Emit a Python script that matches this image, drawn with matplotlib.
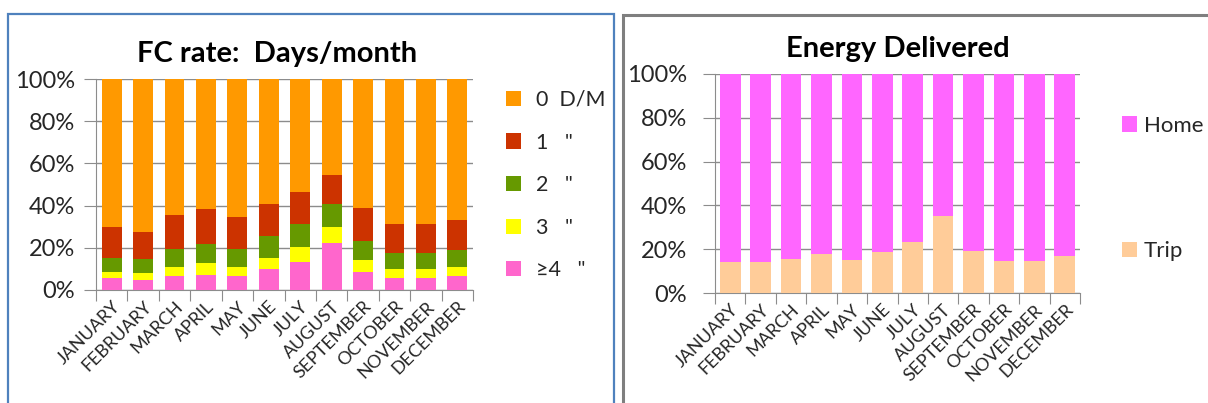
import matplotlib
matplotlib.use('Agg')
import matplotlib.pyplot as plt
import matplotlib.patches as patches
from matplotlib.ticker import FuncFormatter
import numpy as np

plt.rcParams['font.family'] = ['Lato', 'DejaVu Sans']

months = ['JANUARY', 'FEBRUARY', 'MARCH', 'APRIL', 'MAY', 'JUNE', 'JULY',
          'AUGUST', 'SEPTEMBER', 'OCTOBER', 'NOVEMBER', 'DECEMBER']

# FC rate, share of each days/month bucket (percent)
d4 = [5.5, 4.9, 6.6, 7.3, 6.6, 10.0, 13.4, 22.1, 8.5, 5.5, 5.5, 6.6]
d3 = [3.0, 3.0, 4.3, 5.5, 4.3, 5.2, 6.8, 7.8, 5.6, 4.3, 4.3, 4.3]
d2 = [6.7, 6.6, 8.5, 9.2, 8.5, 10.4, 11.1, 10.9, 9.1, 7.8, 7.8, 8.0]
d1 = [14.7, 12.8, 16.0, 16.4, 15.2, 15.2, 15.0, 13.5, 15.8, 13.9, 13.9, 14.5]
d0 = [100 - a - b - c - d for a, b, c, d in zip(d4, d3, d2, d1)]

# energy delivered split (percent)
trip = [14.0, 14.0, 15.7, 17.7, 15.2, 18.6, 23.3, 35.0, 19.3, 14.6, 14.6, 16.7]
home = [100 - t for t in trip]

fc_series = [('\u22654   "', d4, '#FF66CC'),
             ('3   "', d3, '#FFFF00'),
             ('2   "', d2, '#669900'),
             ('1   "', d1, '#CC3300'),
             ('0  D/M', d0, '#FF9900')]
en_series = [('Trip', trip, '#FFCC99'),
             ('Home', home, '#FF66FF')]

TXT = '#262626'
W, H = 1208, 403
fig = plt.figure(figsize=(W / 100, H / 100), dpi=100)

# panel frames
fig.patches.append(patches.Rectangle((8 / W, -0.1), 606 / W, 1 - 14 / H + 0.1,
                                     transform=fig.transFigure, fill=False,
                                     edgecolor='#4F81BD', lw=1.6))
fig.patches.append(patches.Rectangle((623 / W, -0.1), 0.6, 1 - 15 / H + 0.1,
                                     transform=fig.transFigure, fill=False,
                                     edgecolor='#7F7F7F', lw=2.2))

ax1 = fig.add_axes([96 / W, (H - 290) / H, 377 / W, 211 / H])
ax2 = fig.add_axes([715 / W, (H - 293) / H, 365 / W, 219 / H])

pct = FuncFormatter(lambda v, p: '%d%%' % round(v))
x = np.arange(len(months))


def style(ax, ypad):
    ax.set_xlim(-0.5, len(months) - 0.5)
    ax.set_ylim(0, 100)
    ax.set_yticks(np.arange(0, 101, 20))
    ax.yaxis.set_major_formatter(pct)
    ax.set_xticks(np.arange(-0.5, len(months), 1.0))
    ax.set_xticks(x, minor=True)
    ax.set_xticklabels([])
    ax.set_xticklabels(months, minor=True, rotation=45, ha='right',
                       rotation_mode='anchor', fontsize=13, color=TXT)
    ax.tick_params(axis='x', which='minor', length=0, pad=6)
    ax.tick_params(axis='x', which='major', length=8, color='#8C8C8C')
    ax.tick_params(axis='y', length=9, color='#8C8C8C', labelsize=17,
                   labelcolor=TXT, pad=ypad)
    ax.grid(axis='y', color='#8C8C8C', lw=1)
    ax.set_axisbelow(True)
    for s in ('top', 'right'):
        ax.spines[s].set_visible(False)
    for s in ('left', 'bottom'):
        ax.spines[s].set_color('#8C8C8C')


bottom = np.zeros(len(months))
for label, vals, col in fc_series:
    ax1.bar(x, vals, 0.63, bottom=bottom, color=col, label=label, zorder=3)
    bottom += np.array(vals)
style(ax1, 6)
ax1.set_title('FC rate:  Days/month', fontsize=21, fontweight='bold',
              x=0.48, pad=12)
h, l = ax1.get_legend_handles_labels()
ax1.legend(h[::-1], l[::-1], loc='upper left', bbox_to_anchor=(1.035, 1.04),
           frameon=False, fontsize=15.5, handlelength=0.7, handleheight=0.7,
           labelspacing=1.05, handletextpad=0.7, labelcolor=TXT)

bottom = np.zeros(len(months))
for label, vals, col in en_series:
    ax2.bar(x, vals, 0.68, bottom=bottom, color=col, label=label, zorder=3)
    bottom += np.array(vals)
style(ax2, 11)
ax2.set_title('Energy Delivered', fontsize=21, fontweight='bold', pad=12)
h, l = ax2.get_legend_handles_labels()
ax2.legend(h[::-1], l[::-1], loc='upper left', bbox_to_anchor=(1.06, 0.9),
           frameon=False, fontsize=16, handlelength=0.7, handleheight=0.7,
           labelspacing=4.75, handletextpad=0.3, labelcolor=TXT)

fig.savefig('out.png', dpi=100)
